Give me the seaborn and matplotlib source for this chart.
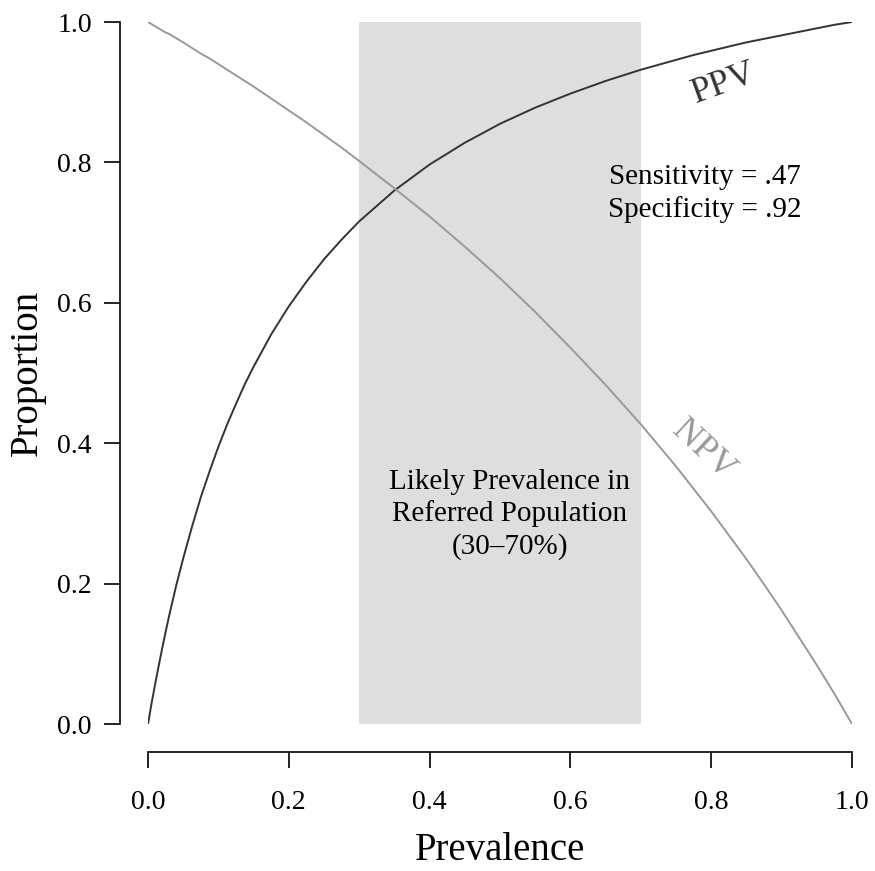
import matplotlib
matplotlib.use("Agg")
import matplotlib.pyplot as plt
import seaborn as sns
import pandas as pd

# Values
prevalence = [0.0, 0.005, 0.01, 0.015, 0.02, 0.025, 0.03, 0.04, 0.05, 0.0625, 0.075, 0.0875,
              0.1, 0.1125, 0.125, 0.1375, 0.15, 0.175, 0.2, 0.225, 0.25, 0.275, 0.3,
              0.35, 0.4, 0.45, 0.5, 0.55, 0.6, 0.65, 0.7, 0.75, 0.775, 0.8, 0.825, 0.85,
              0.875, 0.9, 0.925, 0.95, 0.975, 1.0]
ppv = [0.0, 0.029, 0.056, 0.082, 0.107, 0.131, 0.154, 0.197, 0.236, 0.281, 0.323, 0.360,
       0.395, 0.427, 0.456, 0.484, 0.509, 0.555, 0.595, 0.630, 0.662, 0.690, 0.716,
       0.760, 0.797, 0.828, 0.855, 0.878, 0.898, 0.916, 0.932, 0.946, 0.953, 0.959, 0.965, 0.971,
       0.976, 0.981, 0.986, 0.991, 0.996, 1.0]
npv = [1.0, 0.997, 0.994, 0.991, 0.988, 0.985, 0.983, 0.977, 0.971, 0.963, 0.955, 0.948,
       0.940, 0.932, 0.924, 0.916, 0.908, 0.891, 0.874, 0.857, 0.839, 0.821, 0.802,
       0.763, 0.723, 0.680, 0.635, 0.587, 0.536, 0.483, 0.427, 0.367, 0.335, 0.303, 0.269, 0.235,
       0.199, 0.162, 0.123, 0.084, 0.043, 0.0]
band = [0.3, 0.7]
xticks = [0.0, 0.2, 0.4, 0.6, 0.8, 1.0]
yticks = [0.0, 0.2, 0.4, 0.6, 0.8, 1.0]
series_names = ["PPV", "NPV"]
series_colors = {"PPV": "#333333", "NPV": "#999999"}

df = pd.DataFrame({
    "Prevalence": prevalence * 2,
    "Proportion": ppv + npv,
    "series": ["PPV"] * len(prevalence) + ["NPV"] * len(prevalence),
})

sns.set_style("ticks")
plt.rcParams["font.family"] = ["Liberation Serif", "DejaVu Serif"]

W, H = 875, 871
fig = plt.figure(figsize=(W / 100, H / 100), dpi=100)
ax = fig.add_axes([148 / W, (H - 724) / H, 704 / W, 702 / H])

ax.axvspan(band[0], band[1], ymin=0, ymax=1, color="#dedede", lw=0, zorder=0)

sns.lineplot(data=df, x="Prevalence", y="Proportion", hue="series",
             palette=series_colors, hue_order=series_names, lw=1.4,
             legend=False, ax=ax, zorder=2)

ax.set_xlim(0, 1)
ax.set_ylim(0, 1)
ax.set_xticks(xticks)
ax.set_yticks(yticks)
ax.set_xticklabels([f"{v:.1f}" for v in xticks])
ax.set_yticklabels([f"{v:.1f}" for v in yticks])

for s in ["top", "right"]:
    ax.spines[s].set_visible(False)
ax.spines["left"].set_position(("outward", 20))
ax.spines["bottom"].set_position(("outward", 20))
ax.spines["left"].set_bounds(0, 1)
ax.spines["bottom"].set_bounds(0, 1)
for s in ["left", "bottom"]:
    ax.spines[s].set_linewidth(1.2)
    ax.spines[s].set_color("black")
ax.tick_params(axis="both", length=11.5, width=1.2, color="black",
               labelsize=20, labelcolor="black", direction="out")
ax.tick_params(axis="y", pad=9)
ax.tick_params(axis="x", pad=16)

ax.set_xlabel("Prevalence", fontsize=28, labelpad=12, color="black")
ax.set_ylabel("Proportion", fontsize=28, labelpad=8, color="black")

ax.text(0.818, 0.912, "PPV", fontsize=26, color="#333333", rotation=20,
        ha="center", va="center")
ax.text(0.788, 0.39, "NPV", fontsize=26, color="#999999", rotation=-43,
        ha="center", va="center")
ax.text(0.791, 0.756, "Sensitivity = .47\nSpecificity = .92", fontsize=21,
        color="black", ha="center", va="center", linespacing=1.27)
ax.text(0.514, 0.299, "Likely Prevalence in\nReferred Population\n(30–70%)", fontsize=21,
        color="black", ha="center", va="center", linespacing=1.27)

fig.savefig("out.png", dpi=100)
